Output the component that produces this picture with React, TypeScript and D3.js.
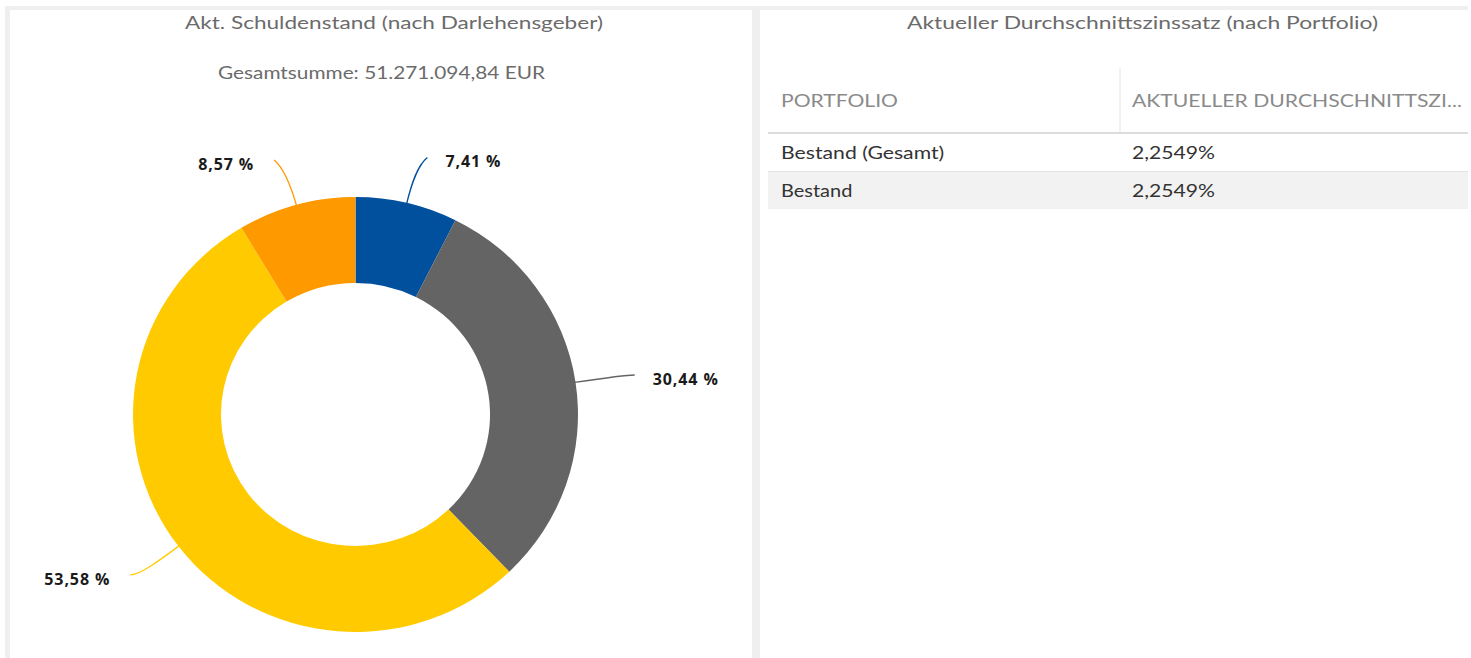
import React from 'react';
import * as d3 from 'd3';

const lenders = ['Darlehensgeber A', 'Darlehensgeber B', 'Darlehensgeber C', 'Darlehensgeber D'];
const shareValues = [7.41, 30.44, 53.58, 8.57];
const sliceColors = ['#00509e', '#646464', '#ffcb00', '#ff9900'];
const leftTitle = 'Akt. Schuldenstand (nach Darlehensgeber)';
const leftSubtitle = 'Gesamtsumme: 51.271.094,84 EUR';
const rightTitle = 'Aktueller Durchschnittszinssatz (nach Portfolio)';
const tableColumns = ['PORTFOLIO', 'AKTUELLER DURCHSCHNITTSZI...'];
const portfolios = ['Bestand (Gesamt)', 'Bestand'];
const rates = ['2,2549%', '2,2549%'];

const W = 1471;
const H = 658;
const cx = 355.5;
const cy = 414.5;
const outerR = 217.5;
const innerR = 131.5;
const sx = 1.023;

const de = d3.formatLocale({ decimal: ',', thousands: '.', grouping: [3], currency: ['', ' EUR'] });
const fmt = de.format('.2f');
const deg = Math.PI / 180;

export default function App() {
  const data = lenders.map((name, i) => ({ name, value: shareValues[i], color: sliceColors[i] }));
  const pie = d3.pie<any>().sort(null).value((d: any) => d.value).startAngle(0).endAngle(2 * Math.PI);
  const arcs = pie(data);
  const arc = d3.arc<any>().innerRadius(innerR).outerRadius(outerR);
  const pt = (a: number, r: number) => [cx + sx * r * Math.sin(a), cy - r * Math.cos(a)];

  const font = 'Lato, "Open Sans", sans-serif';
  const stretch = { lengthAdjust: 'spacingAndGlyphs' as any };

  return (
    <div style={{ position: 'absolute', left: 0, top: 0, width: W, height: H, background: '#fff' }}>
      <svg width={W} height={H} style={{ display: 'block' }}>
        <rect x={0} y={0} width={W} height={H} fill="#ffffff" />
        {/* frame */}
        <rect x={5} y={6} width={1463} height={4} fill="#efefef" />
        <rect x={5} y={6} width={5} height={H - 6} fill="#efefef" />
        <rect x={752} y={6} width={8} height={H - 6} fill="#efefef" />

        {/* left panel titles */}
        <text x={185} y={29} textLength={418} {...stretch} fontFamily={font} fontSize={18} fill="#6b6b6b">{leftTitle}</text>
        <text x={218} y={79} textLength={327} {...stretch} fontFamily={font} fontSize={18} fill="#6b6b6b">{leftSubtitle}</text>

        {/* donut */}
        <g transform={`translate(${cx},${cy}) scale(${sx},1)`}>
          {arcs.map((a, i) => (
            <path key={i} d={arc(a) as string} fill={a.data.color} />
          ))}
        </g>
        {arcs.map((a, i) => {
          const mid = (a.startAngle + a.endAngle) / 2;
          const s = Math.sin(mid);
          const c = Math.cos(mid);
          const right = s >= 0;
          const toward = (right ? 1 : -1) * (c >= 0 ? 1 : -1);
          const endA = mid + toward * 2 * deg * Math.abs(c);
          const endR = 266 + 10 * s * s;
          const [x0, y0] = pt(mid, outerR - 2);
          const [x1, y1] = pt(mid, outerR + 20);
          const [ex, ey] = pt(endA, endR);
          const c2x = ex + (right ? -10 : 10);
          const c2y = ey + (Math.abs(c) > 0.7 ? 8 : 0);
          const lx = right ? ex + 18 : ex - 20;
          return (
            <g key={'l' + i}>
              <path
                d={`M${x0},${y0} C${x1},${y1} ${c2x},${c2y} ${ex},${ey}`}
                fill="none"
                stroke={a.data.color}
                strokeWidth={1.3}
              />
              <text
                x={lx}
                y={ey + 4}
                dominantBaseline="central"
                textAnchor={right ? 'start' : 'end'}
                fontFamily='"Open Sans", sans-serif'
                fontWeight={700}
                fontSize={16}
                letterSpacing={0.9}
                fill="#1a1a1a"
              >
                {fmt(a.data.value) + ' %'}
              </text>
            </g>
          );
        })}

        {/* right panel */}
        <text x={907} y={29} textLength={471} {...stretch} fontFamily={font} fontSize={18} fill="#6b6b6b">{rightTitle}</text>
        <line x1={1120} x2={1120} y1={68} y2={132} stroke="#e4e4e4" strokeWidth={1} />
        <rect x={768} y={132} width={700} height={2} fill="#dcdcdc" />
        {tableColumns.map((c, i) => (
          <text key={c} x={i === 0 ? 781 : 1132} y={107} textLength={i === 0 ? 117 : 330} {...stretch} fontFamily={font} fontSize={17} fill="#8a8a8a">{c}</text>
        ))}
        {portfolios.map((p, i) => {
          const top = 134 + i * 38;
          return (
            <g key={p}>
              <rect x={768} y={top} width={700} height={37} fill={i % 2 === 1 ? '#f2f2f2' : '#ffffff'} />
              {i > 0 && <rect x={768} y={top - 1} width={700} height={1} fill="#e2e2e2" />}
              <text x={781} y={top + 25} fontFamily={font} fontSize={17} fill="#333333"
                textLength={p.length * 10.2} {...stretch}>{p}</text>
              <text x={1132} y={top + 25} fontFamily={font} fontSize={17} fill="#333333"
                textLength={83} {...stretch}>{rates[i]}</text>
            </g>
          );
        })}
      </svg>
    </div>
  );
}
